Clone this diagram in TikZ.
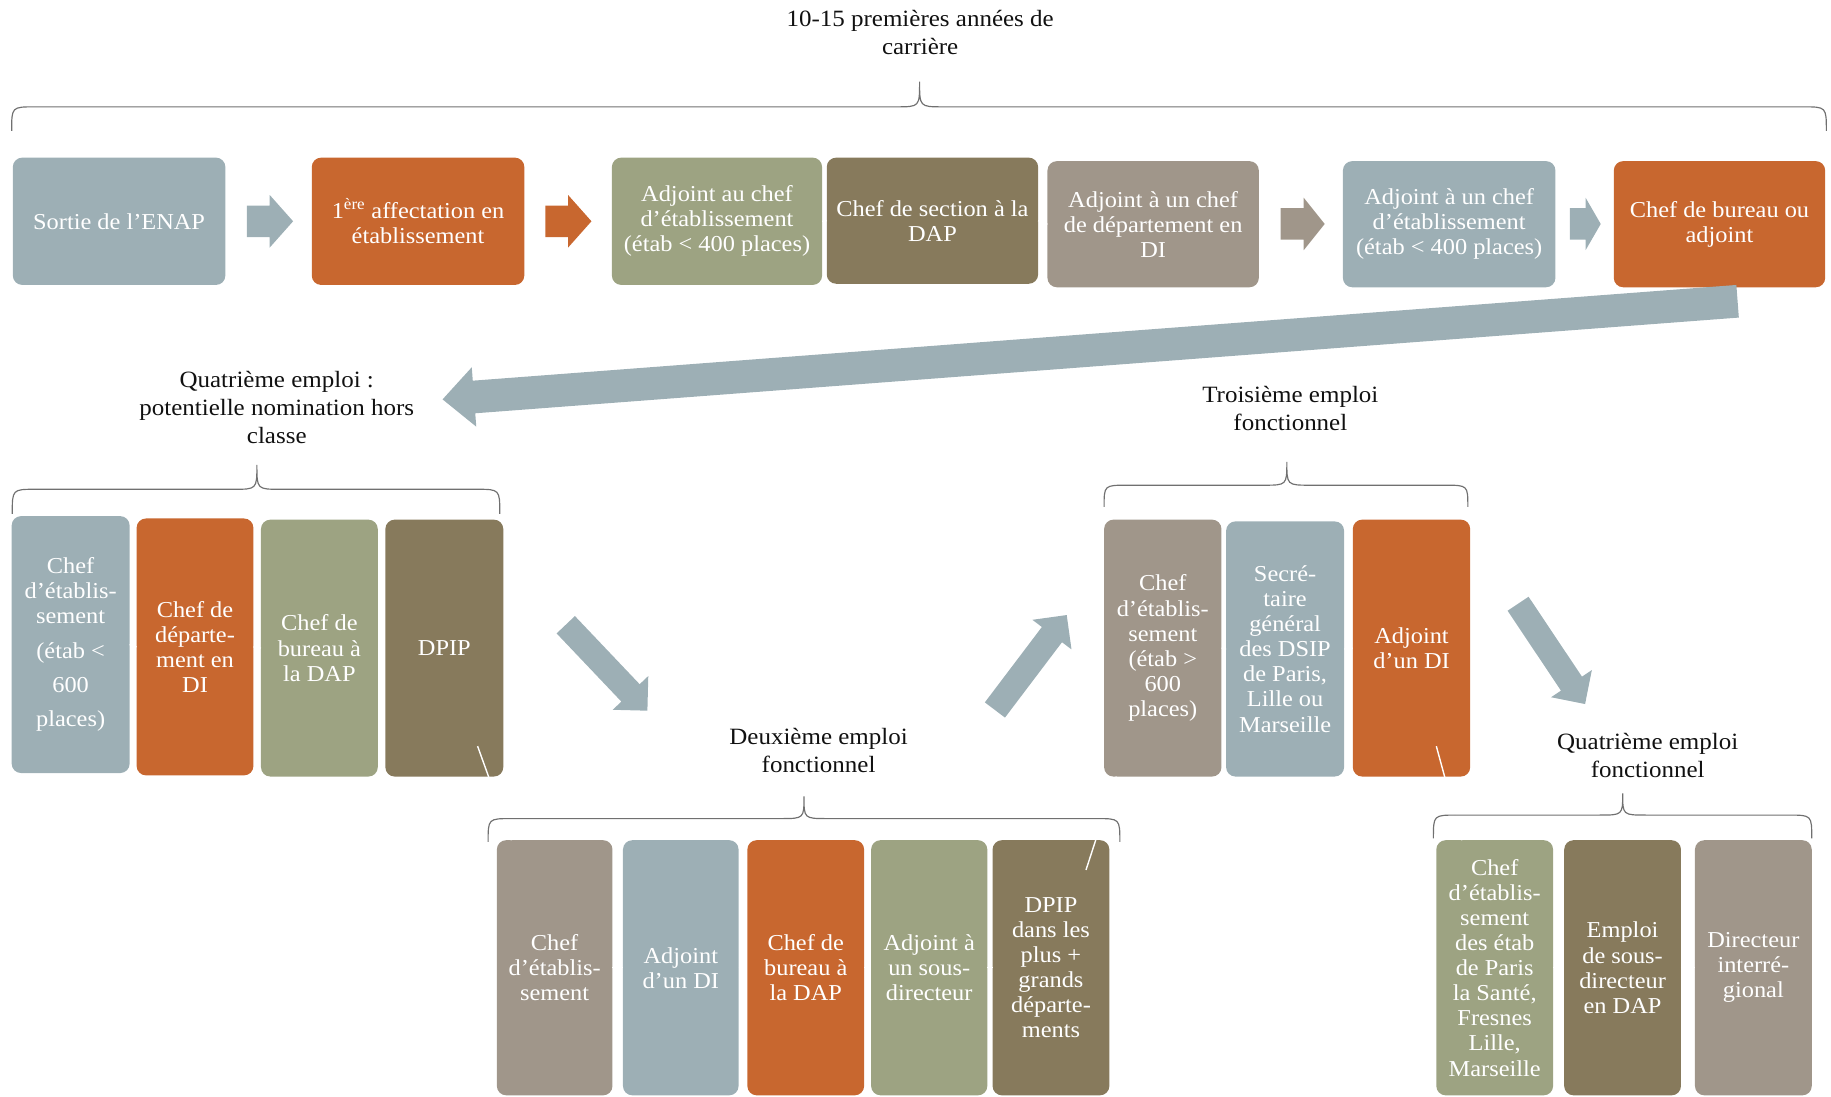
\documentclass[tikz,border=0pt]{standalone}
\usepackage{fontspec}
\setmainfont{Liberation Serif}[FakeStretch=1.07]
\usetikzlibrary{calc}
\definecolor{cgb}{HTML}{9DAFB5}
\definecolor{cor}{HTML}{C8672F}
\definecolor{cgr}{HTML}{9DA382}
\definecolor{cbr}{HTML}{877A5C}
\definecolor{ctp}{HTML}{A0968A}
\definecolor{cbrace}{HTML}{707070}
\definecolor{ctext}{HTML}{111111}
\newcommand{\boxfont}{\fontsize{19.5}{21.5}\selectfont}
\newcommand{\labfont}{\fontsize{20}{24}\selectfont}
% name x1 y1 x2 y2 colour text
\newcommand{\mybox}[7]{%
  \node[boxst, fill=#6, minimum width={#4-#2}, minimum height={#5-#3}] (#1) at ({(#2+#4)/2},{(#3+#5)/2}) {#7};}
% x1 x2 xm ytip yh yend
\newcommand{\mybrace}[6]{%
  \draw[bracest] (#1,#6) .. controls (#1,#5) .. ({#1+20},#5) -- ({#3-20},#5)
    .. controls (#3,#5) .. (#3,#4) .. controls (#3,#5) .. ({#3+20},#5)
    -- ({#2-20},#5) .. controls (#2,#5) .. (#2,#6);}
% start end halfshaft halfhead headlength colour
\newcommand{\blockarrow}[6]{%
  \coordinate (tmpH) at ($(#2)!#5!(#1)$);
  \fill[#6] ($(#1)!#3!90:(#2)$) -- ($(tmpH)!#3!90:(#2)$) -- ($(tmpH)!#4!90:(#2)$)
    -- (#2) -- ($(tmpH)!#4!-90:(#2)$) -- ($(tmpH)!#3!-90:(#2)$) -- ($(#1)!#3!-90:(#2)$) -- cycle;}
\begin{document}
\begin{tikzpicture}[x=1pt,y=-1pt,
  boxst/.style={rounded corners=8pt, inner sep=0pt, outer sep=0pt, text=white, align=center, font=\boxfont},
  labst/.style={align=center, font=\labfont, text=ctext, inner sep=0pt},
  bracest/.style={draw=cbrace, line width=1pt},
  linkst/.style={draw=white, line width=1.2pt},
  tickst/.style={draw=white, line width=1pt}]
\useasboundingbox (0,0) rectangle (1568,939);

% ---------- top row ----------
\node[labst] (ttop) at (788,28) {10-15 premières années de\\carrière};

\mybox{s1}{11}{135}{193}{244}{cgb}{Sortie de l’ENAP}
\mybox{s2}{267}{135}{449}{244}{cor}{1\textsuperscript{ère} affectation en\\établissement}
\mybox{s3}{524}{135}{704}{244}{cgr}{Adjoint au chef\\d’établissement\\(étab < 400 places)}
\mybox{s4}{708}{135}{889}{243}{cbr}{Chef de section à la\\DAP}
\mybox{s5}{897}{138}{1078}{246}{ctp}{Adjoint à un chef\\de département en\\DI}
\mybox{s6}{1150}{138}{1332}{246}{cgb}{Adjoint à un chef\\d’établissement\\(étab < 400 places)}
\mybox{s7}{1382}{138}{1563}{246}{cor}{Chef de bureau ou\\adjoint}
\draw[tickst] (s3.east) -- (s4.west);
\draw[tickst] (s4.east) -- (s5.west);

\coordinate (a1s) at (211.5,189.5); \coordinate (a1e) at (251,189.5);
\coordinate (a2s) at (467,189.5);   \coordinate (a2e) at (506.5,189.5);
\coordinate (a3s) at (1096.7,191.8); \coordinate (a3e) at (1134.4,191.8);
\coordinate (a4s) at (1344.4,191.8); \coordinate (a4e) at (1370.8,191.8);
\blockarrow{a1s}{a1e}{13.5pt}{22.5pt}{20pt}{cgb}
\blockarrow{a2s}{a2e}{13.5pt}{22.5pt}{20pt}{cor}
\blockarrow{a3s}{a3e}{13.5pt}{22.5pt}{18pt}{ctp}
\blockarrow{a4s}{a4e}{13.5pt}{22.5pt}{13pt}{cgb}

% big arrow
\coordinate (bgs) at (1488,258); \coordinate (bge) at (379,342);
\blockarrow{bgs}{bge}{14pt}{25.5pt}{27pt}{cgb}

% ---------- group 1 ----------
\node[labst] (lab1) at (237,349) {Quatrième emploi :\\potentielle nomination hors\\classe};
\mybox{g1a}{10}{442}{111}{662}{cgb}{Chef\\d’établis-\\sement\\[8pt](étab <\\[8pt]600\\[8pt]places)}
\mybox{g1b}{117}{444}{217}{664}{cor}{Chef de\\départe-\\ment en\\DI}
\mybox{g1c}{223.5}{445}{323.5}{665}{cgr}{Chef de\\bureau à\\la DAP}
\mybox{g1d}{330}{445}{431}{665}{cbr}{DPIP}
\draw[tickst] (g1a.east) -- (g1b.west);
\draw[tickst] (g1b.east) -- (g1c.west);
\draw[tickst] (g1c.east) -- (g1d.west);

\coordinate (d1s) at (484.5,535); \coordinate (d1e) at (554.4,608.6);
\blockarrow{d1s}{d1e}{10.8pt}{21pt}{21pt}{cgb}

% ---------- group 2 ----------
\node[labst] (lab2) at (701,643) {Deuxième emploi\\fonctionnel};
\mybox{g2a}{425.5}{719.5}{524.5}{938}{ctp}{Chef\\d’établis-\\sement}
\mybox{g2b}{533.5}{719.5}{632.5}{938}{cgb}{Adjoint\\d’un DI}
\mybox{g2c}{640}{719.5}{740}{938}{cor}{Chef de\\bureau à\\la DAP}
\mybox{g2d}{746}{719.5}{845.5}{938}{cgr}{Adjoint à\\un sous-\\directeur}
\mybox{g2e}{850}{719.5}{950}{938}{cbr}{DPIP\\dans les\\plus +\\grands\\départe-\\ments}
\draw[tickst] (g2a.east) -- (g2b.west);
\draw[tickst] (g2b.east) -- (g2c.west);
\draw[tickst] (g2c.east) -- (g2d.west);
\draw[tickst] (g2d.east) -- (g2e.west);

\coordinate (d2s) at (852,608); \coordinate (d2e) at (913.5,526.7);
\blockarrow{d2s}{d2e}{10.8pt}{21pt}{21pt}{cgb}

% ---------- group 3 ----------
\node[labst] (lab3) at (1105,350) {Troisième emploi\\fonctionnel};
\mybox{g3a}{945.5}{445}{1046}{665}{ctp}{Chef\\d’établis-\\sement\\(étab >\\600\\places)}
\mybox{g3b}{1050}{446.5}{1151}{665}{cgb}{Secré-\\taire\\général\\des DSIP\\de Paris,\\Lille ou\\Marseille}
\mybox{g3c}{1158.5}{445}{1259}{665}{cor}{Adjoint\\d’un DI}
\draw[tickst] (g3a.east) -- (g3b.west);
\draw[tickst] (g3b.east) -- (g3c.west);

\coordinate (d3s) at (1300,517); \coordinate (d3e) at (1357.4,602.9);
\blockarrow{d3s}{d3e}{10.8pt}{21pt}{21pt}{cgb}

% ---------- group 4 ----------
\node[labst] (lab4) at (1411,647) {Quatrième emploi\\fonctionnel};
\mybox{g4a}{1230}{719.5}{1330}{938}{cgr}{Chef\\d’établis-\\sement\\des étab\\de Paris\\la Santé,\\Fresnes\\Lille,\\Marseille}
\mybox{g4b}{1339.5}{719.5}{1439.5}{938}{cbr}{Emploi\\de sous-\\directeur\\en DAP}
\mybox{g4c}{1451.5}{719.5}{1551.5}{938}{ctp}{Directeur\\interré-\\gional}
\draw[tickst] (g4a.east) -- (g4b.west);
\draw[tickst] (g4b.east) -- (g4c.west);

% ---------- links between groups ----------
\coordinate (k1s) at (409,639);  \coordinate (k1e) at (438,719.5);
\coordinate (k2s) at (956,665);  \coordinate (k2e) at (930,745);
\coordinate (k3s) at (1230,639); \coordinate (k3e) at (1252,719.5);
\draw[linkst] (k1s) -- (k1e);
\draw[linkst] (k2s) -- (k2e);
\draw[linkst] (k3s) -- (k3e);

% ---------- braces ----------
\mybrace{10}{1564}{787.5}{70}{91.5}{112}
\mybrace{10.5}{428}{220}{398}{419}{440}
\mybrace{418}{959}{688.5}{682}{701}{721}
\mybrace{945.5}{1257}{1102}{395.5}{415.5}{434}
\mybrace{1227.5}{1551.5}{1389.6}{679.5}{698}{718}
\end{tikzpicture}
\end{document}
